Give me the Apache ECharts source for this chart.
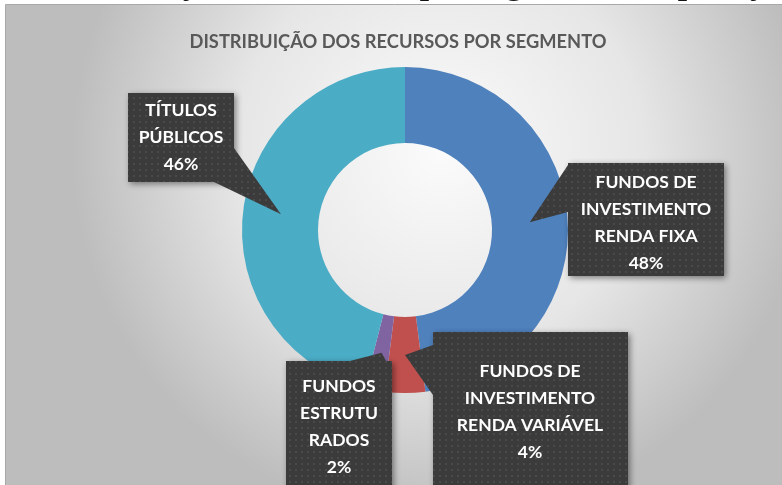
<!DOCTYPE html>
<html><head><meta charset="utf-8">
<script src="https://cdn.jsdelivr.net/npm/echarts@6/dist/echarts.min.js"></script>
<style>html,body{margin:0;padding:0;background:#fff}#c{width:782px;height:485px}</style>
</head><body><div id="c"></div>
<script>
// ---- data ----
const categories = ['FUNDOS DE INVESTIMENTO RENDA FIXA', 'FUNDOS DE INVESTIMENTO RENDA VARIÁVEL', 'FUNDOS ESTRUTURADOS', 'TÍTULOS PÚBLICOS'];
const labelLines = [['FUNDOS DE', 'INVESTIMENTO', 'RENDA FIXA'], ['FUNDOS DE', 'INVESTIMENTO', 'RENDA VARIÁVEL'], ['FUNDOS', 'ESTRUTU', 'RADOS'], ['TÍTULOS', 'PÚBLICOS']];
const values = [48, 4, 2, 46];
const colors = ['#4F81BD', '#C0504D', '#8064A2', '#4BACC6'];
const titleText = 'DISTRIBUIÇÃO DOS RECURSOS POR SEGMENTO';
const captionText = 'Distribuição dos recursos por segmento de aplicação';

// ---- layout of callout boxes (positions only) ----
const callouts = [
  {box: [568, 163, 156, 113], base: [[568, 165], [568, 212]], text: [646, 223]},
  {box: [433, 332, 195, 160], base: [[433, 345], [433, 395]], text: [530, 412]},
  {box: [286, 361, 106, 130], base: [[350, 361], [386, 361]], text: [339, 427]},
  {box: [128, 93, 106, 89], base: [[234, 148], [214, 182]], text: [181, 137]}
];

// caption (cut off at the top of the picture): size it so its two "ç" sit at x=183 and x=750
const mc = document.createElement('canvas').getContext('2d');
mc.font = 'bold 30px "Liberation Serif"';
const i1 = captionText.indexOf('ç');
const i2 = captionText.lastIndexOf('ç');
const w1 = mc.measureText(captionText.slice(0, i1)).width;
const w2 = mc.measureText(captionText.slice(0, i2)).width;
const capSize = 30 * (750 - 183) / (w2 - w1);
const capX = 183 - w1 * capSize / 30 - 4;

// dotted dark pattern for callouts
const pc = document.createElement('canvas');
pc.width = 6; pc.height = 6;
const pctx = pc.getContext('2d');
pctx.fillStyle = '#3b3b3b'; pctx.fillRect(0, 0, 6, 6);
pctx.fillStyle = '#4a4a4a'; pctx.fillRect(1, 1, 2, 2);
const patternFill = {image: pc, repeat: 'repeat'};

const chart = echarts.init(document.getElementById('c'), null, {renderer: 'canvas'});

const baseGraphics = [
  {type: 'rect', z: -10, silent: true,
   shape: {x: 5.5, y: 4.5, width: 790, height: 490},
   style: {fill: new echarts.graphic.RadialGradient(0.55, 0.3, 0.75, [
     {offset: 0, color: '#fbfbfb'}, {offset: 0.55, color: '#e6e6e6'}, {offset: 1, color: '#bdbdbd'}]),
     stroke: '#a8a8a8', lineWidth: 1}},
  {type: 'text', z: -5, silent: true, x: capX, y: -0.45 * capSize + 0.5,
   style: {text: captionText, font: 'bold ' + capSize.toFixed(1) + 'px "Liberation Serif"', fill: '#111', align: 'left', verticalAlign: 'middle'}},
  {type: 'text', z: 5, silent: true, x: 398, y: 42,
   style: {text: titleText, font: 'bold 18.3px Lato', fill: '#595959', align: 'center', verticalAlign: 'middle'}}
];

chart.setOption({
  animation: false,
  graphic: baseGraphics,
  series: [{
    type: 'pie',
    z: 2,
    center: [405, 230],
    radius: [87, 163],
    startAngle: 90,
    clockwise: true,
    silent: true,
    label: {show: false},
    labelLine: {show: false},
    data: categories.map((n, i) => ({name: n, value: values[i], itemStyle: {color: colors[i]}}))
  }]
});

// build callouts from the pie's own layout
const data = chart.getModel().getSeriesByIndex(0).getData();
const extra = [];
callouts.forEach((c, i) => {
  const lay = data.getItemLayout(i);
  const mid = (lay.startAngle + lay.endAngle) / 2;
  const rm = (lay.r + lay.r0) / 2;
  const tip = [lay.cx + rm * Math.cos(mid), lay.cy + rm * Math.sin(mid)];
  const [bx, by, bw, bh] = c.box;
  const ctr = [bx + bw / 2, by + bh / 2];
  const lines = labelLines[i].concat([values[i] + '%']);
  extra.push(
    {type: 'rect', z: 100, silent: true, shape: {x: bx, y: by, width: bw, height: bh},
     style: {fill: patternFill, shadowBlur: 6, shadowOffsetX: 2, shadowOffsetY: 2, shadowColor: 'rgba(0,0,0,0.45)'}},
    {type: 'polygon', z: 101, silent: true, shape: {points: [c.base[0], tip, c.base[1], ctr]},
     style: {fill: patternFill}},
    {type: 'text', z: 102, silent: true, x: c.text[0], y: c.text[1],
     style: {text: lines.join('\n'), font: 'bold 17.5px Lato', lineHeight: 27, fill: '#ffffff', align: 'center', verticalAlign: 'middle'}}
  );
});
chart.setOption({graphic: baseGraphics.concat(extra)});
</script>
</body></html>
